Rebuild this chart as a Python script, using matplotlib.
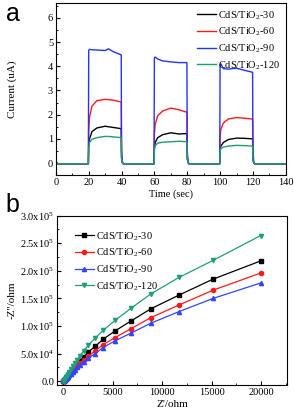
import matplotlib
matplotlib.use('Agg')
import matplotlib.pyplot as plt
from matplotlib.ticker import MultipleLocator, FuncFormatter

plt.rcParams['font.family'] = ['Liberation Serif']
plt.rcParams['mathtext.fontset'] = 'custom'
plt.rcParams['mathtext.rm'] = 'Liberation Serif'
plt.rcParams['mathtext.it'] = 'Liberation Serif'

# === panel a: photocurrent vs time ===
labels = ['CdS/TiO$_2$-30', 'CdS/TiO$_2$-60', 'CdS/TiO$_2$-90', 'CdS/TiO$_2$-120']
colors_a = ['#000000', '#ff1a1a', '#2233ff', '#1f9e6a']

t = [0, 1, 19.8, 20, 20.5, 22, 25, 30, 32, 35, 39.8, 40, 40.5, 41,
     59.8, 60, 60.5, 62, 65, 70, 75, 79.8, 80, 80.5, 81,
     99.8, 100, 100.5, 102, 105, 110, 115, 119.8, 120, 120.5, 121, 140]

cur_30 = [0.05, -0.03, -0.03, 0.7, 1.0, 1.3, 1.45, 1.52, 1.5, 1.47, 1.42, 0.2, 0.02, -0.03,
          -0.03, 0.6, 0.85, 1.05, 1.17, 1.25, 1.2, 1.22, 0.2, 0.02, -0.03,
          -0.03, 0.55, 0.7, 0.85, 0.97, 1.03, 1.02, 1.0, 0.15, 0.02, -0.03, -0.03]
cur_60 = [0.02, -0.03, -0.03, 1.3, 1.9, 2.35, 2.58, 2.63, 2.62, 2.6, 2.52, 0.3, 0.02, -0.03,
          -0.03, 1.2, 1.6, 1.95, 2.15, 2.27, 2.2, 2.1, 0.3, 0.02, -0.03,
          -0.03, 1.1, 1.4, 1.65, 1.82, 1.88, 1.85, 1.82, 0.3, 0.02, -0.03, -0.03]
cur_90 = [0.05, -0.03, -0.03, 4.65, 4.7, 4.68, 4.67, 4.65, 4.72, 4.6, 4.47, 0.5, 0.05, -0.03,
          -0.03, 4.35, 4.38, 4.3, 4.22, 4.18, 4.15, 4.15, 0.5, 0.05, -0.03,
          -0.03, 4.05, 4.1, 3.9, 3.88, 3.92, 3.83, 3.75, 0.5, 0.05, -0.03, -0.03]
cur_120 = [0.02, -0.03, -0.03, 0.6, 0.85, 0.98, 1.05, 1.1, 1.1, 1.08, 1.05, 0.15, 0.02, -0.03,
           -0.03, 0.55, 0.72, 0.82, 0.86, 0.88, 0.9, 0.88, 0.15, 0.02, -0.03,
           -0.03, 0.5, 0.6, 0.66, 0.7, 0.73, 0.72, 0.7, 0.1, 0.02, -0.03, -0.03]

# === panel b: Nyquist plot ===
zre = [0, 60, 130, 200, 300, 400, 520, 650, 800, 1000, 1200, 1450, 1700,
       2100, 2550, 3250, 4050, 5250, 6850, 8850, 11700, 15150, 19950]
zim_30 = [0, 800, 2000, 3500, 5500, 7500, 10000, 13000, 17000, 21000, 26000, 31000, 37000,
          44000, 53000, 63000, 76000, 91000, 109000, 131000, 156000, 185000, 218000]
zim_60 = [0, 700, 1800, 3000, 5000, 6500, 9000, 12000, 15000, 19000, 23000, 27000, 32000,
          38000, 45000, 55000, 66000, 79000, 95000, 115000, 138000, 165000, 196000]
zim_90 = [0, 600, 1600, 2800, 4500, 6000, 8000, 10500, 13500, 17000, 21000, 25000, 29000,
          35000, 42000, 50000, 61000, 73000, 87000, 105000, 126000, 150000, 178000]
zim_120 = [0, 1000, 2500, 4500, 7000, 10000, 13000, 17000, 22000, 27000, 33000, 39000, 46000,
           55000, 65000, 78000, 92000, 110000, 132000, 158000, 188000, 219000, 264000]

fig = plt.figure(figsize=(2.94, 4.16), dpi=100)
fs = 7.5

ax1 = fig.add_axes([0.190, 0.579, 0.782, 0.413])
for y, c, lab in zip([cur_30, cur_60, cur_90, cur_120], colors_a, labels):
    ax1.plot(t, y, color=c, lw=1.0, label=lab)
ax1.set_xlim(0, 140)
ax1.set_ylim(-0.5, 6.6)
ax1.xaxis.set_major_locator(MultipleLocator(20))
ax1.xaxis.set_minor_locator(MultipleLocator(10))
ax1.yaxis.set_major_locator(MultipleLocator(1))
ax1.yaxis.set_minor_locator(MultipleLocator(0.5))
ax1.set_xlabel('Time (sec)', fontsize=fs, labelpad=2)
ax1.set_ylabel('Current (uA)', fontsize=8)
ax1.yaxis.set_label_coords(-0.17, 0.5)
ax1.legend(loc='upper right', frameon=False, fontsize=fs, handlelength=1.8,
           handletextpad=0.2, labelspacing=0.4, borderaxespad=0.15,
           bbox_to_anchor=(1.0, 1.0))

ax2 = fig.add_axes([0.194, 0.0745, 0.782, 0.407])
colors_b = ['#000000', '#ff1a1a', '#3344ff', '#1f9e7a']
markers = ['s', 'o', '^', 'v']
for y, c, m, lab in zip([zim_30, zim_60, zim_90, zim_120], colors_b, markers, labels):
    ax2.plot(zre, y, color=c, lw=0.9, marker=m, ms=3.0, label=lab)
ax2.set_xlim(-600, 22600)
ax2.set_ylim(-7000, 300000)
ax2.xaxis.set_major_locator(MultipleLocator(5000))
ax2.xaxis.set_minor_locator(MultipleLocator(2500))
ax2.yaxis.set_major_locator(MultipleLocator(50000))
ax2.yaxis.set_minor_locator(MultipleLocator(25000))


def sci_fmt(v, pos):
    if abs(v) < 1:
        return '0.0'
    e = len(str(int(v))) - 1
    return r'%.1fx10$^{%d}$' % (v / 10 ** e, e)


ax2.yaxis.set_major_formatter(FuncFormatter(sci_fmt))
ax2.set_xlabel("Z'/ohm", fontsize=8, labelpad=2)
ax2.set_ylabel("-Z''/ohm", fontsize=8)
ax2.yaxis.set_label_coords(-0.175, 0.5)
ax2.legend(loc='upper left', frameon=False, fontsize=fs, handlelength=1.8,
           handletextpad=0.2, labelspacing=0.4, borderaxespad=0.0,
           bbox_to_anchor=(0.06, 0.94))

for ax in (ax1, ax2):
    ax.tick_params(which='both', direction='in', top=False, right=False, labelsize=fs, pad=2)
    ax.tick_params(which='major', length=3)
    ax.tick_params(which='minor', length=1.5)

fig.text(0.02, 0.995, 'a', fontsize=18, family='Liberation Sans', va='top')
fig.text(0.02, 0.537, 'b', fontsize=18, family='Liberation Sans', va='top')

fig.savefig('out.png', dpi=100)
